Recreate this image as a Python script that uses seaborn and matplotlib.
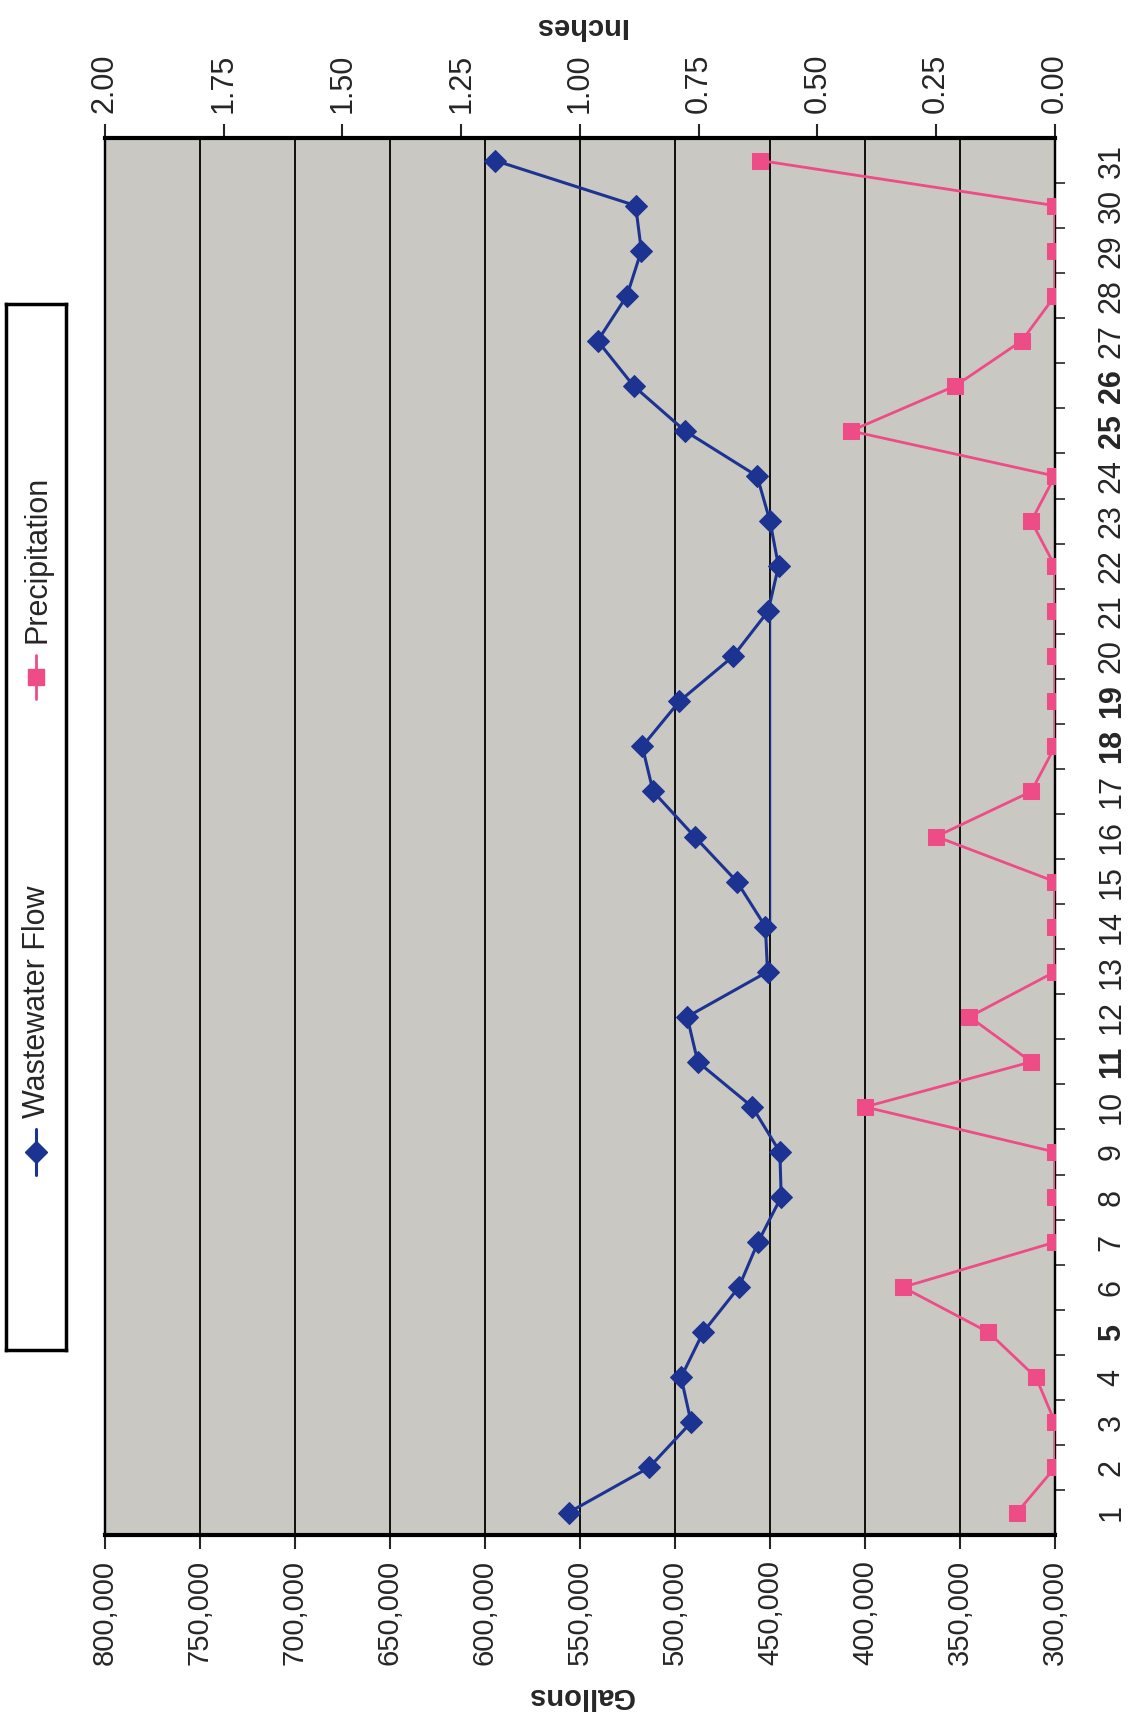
import matplotlib
matplotlib.use("Agg")
import matplotlib.pyplot as plt
import matplotlib.ticker as mticker
import seaborn as sns
import pandas as pd

# data
days = list(range(1, 32))
flow = [556000, 513600, 491500, 496800, 485200, 466400, 456300, 444100, 444800, 459300,
        488000, 493600, 451300, 452400, 467400, 489700, 511500, 517200, 497700, 469400,
        451000, 445500, 450000, 456800, 494700, 521800, 540700, 525300, 517700, 520700,
        594700]
precip = [0.08, 0.00, 0.00, 0.04, 0.14, 0.32, 0.00, 0.00, 0.00, 0.40,
          0.05, 0.18, 0.00, 0.00, 0.00, 0.25, 0.05, 0.00, 0.00, 0.00,
          0.00, 0.00, 0.05, 0.00, 0.43, 0.21, 0.07, 0.00, 0.00, 0.00,
          0.62]
flat_days = [14, 21]
flat_flow = [450000, 450000]
bold_days = [5, 11, 18, 19, 25, 26]

gallon_ticks = list(range(300000, 800001, 50000))
inch_ticks = [0, 0.25, 0.5, 0.75, 1.0, 1.25, 1.5, 1.75, 2.0]

df = pd.DataFrame({"day": days, "flow": flow, "precip": precip})

blue = "#1C3391"
pink = "#EE4C86"
grey = "#CAC8C2"

sns.set_style("ticks")
plt.rcParams["font.family"] = ["Liberation Sans", "DejaVu Sans"]

fig = plt.figure(figsize=(11.31, 17.32), dpi=100)
ax = fig.add_axes([0.0928, 0.1137, 0.84, 0.8066])
ax.set_facecolor(grey)

# flow on the gallons axis (bottom, reversed)
sns.lineplot(data=df, x="flow", y="day", orient="y", sort=False, estimator=None,
             color=blue, lw=2.2, marker="D", markersize=11,
             markeredgecolor=blue, ax=ax, zorder=3)
sns.lineplot(x=flat_flow, y=flat_days, orient="y", sort=False, estimator=None,
             color=blue, lw=1, ax=ax, zorder=3)

ax.set_xlim(800000, 300000)
ax.set_ylim(0.5, 31.5)
ax.set_xticks(gallon_ticks)
ax.xaxis.set_major_formatter(mticker.FuncFormatter(lambda v, p: f"{v:,.0f}"))
ax.grid(axis="x", color="black", lw=1.3)
ax.grid(axis="y", visible=False)
ax.tick_params(axis="x", direction="out", length=10, width=1.5, labelsize=21,
               labelrotation=90, pad=8)
ax.set_xlabel("Gallons", fontsize=21, fontweight="bold", rotation=180, labelpad=12)

# days on the right side
ax.yaxis.tick_right()
ax.set_yticks(days)
ax.set_yticklabels([str(d) for d in days])
ax.set_yticks([d + 0.5 for d in days[:-1]], minor=True)
ax.tick_params(axis="y", which="major", length=0, labelsize=22, labelrotation=90, pad=30)
ax.tick_params(axis="y", which="minor", direction="out", length=7, width=1.2)
for lab in ax.get_yticklabels():
    lab.set_va("center")
    if int(lab.get_text()) in bold_days:
        lab.set_fontweight("bold")
ax.set_ylabel("")

# precipitation on the inches axis (top, reversed)
ax2 = ax.twiny()
sns.lineplot(data=df, x="precip", y="day", orient="y", sort=False, estimator=None,
             color=pink, lw=2, marker="s", markersize=11,
             markeredgecolor=pink, ax=ax2, zorder=4)
ax2.set_xlim(2, 0)
ax2.set_xticks(inch_ticks)
ax2.xaxis.set_major_formatter(mticker.FormatStrFormatter("%.2f"))
ax2.tick_params(axis="x", direction="out", length=10, width=1.5, labelsize=22,
                labelrotation=90, pad=8)
ax2.set_xlabel("Inches", fontsize=21, fontweight="bold", rotation=180, labelpad=14)
ax2.set_ylabel("")
ax2.grid(False)

for a in (ax, ax2):
    for s in a.spines.values():
        s.set_visible(True)
        s.set_color("black")
        s.set_linewidth(1.6)
ax.spines["bottom"].set_linewidth(3)
ax2.spines["top"].set_linewidth(3)

# legend box drawn sideways
lg = fig.add_axes([0.005, 0.2206, 0.0535, 0.604])
lg.set_xlim(0, 1)
lg.set_ylim(0, 1)
lg.set_xticks([])
lg.set_yticks([])
lg.set_facecolor("white")
for s in lg.spines.values():
    s.set_color("black")
    s.set_linewidth(2.5)
lg.plot([0.5, 0.5], [0.167, 0.211], color=blue, lw=2.2)
lg.plot([0.5], [0.189], color=blue, marker="D", markersize=11)
lg.text(0.52, 0.222, "Wastewater Flow", rotation=90, ha="center", va="bottom", fontsize=22)
lg.plot([0.5, 0.5], [0.622, 0.664], color=pink, lw=2)
lg.plot([0.5], [0.643], color=pink, marker="s", markersize=11)
lg.text(0.52, 0.676, "Precipitation", rotation=90, ha="center", va="bottom", fontsize=22)

fig.savefig("out.png", dpi=100)
